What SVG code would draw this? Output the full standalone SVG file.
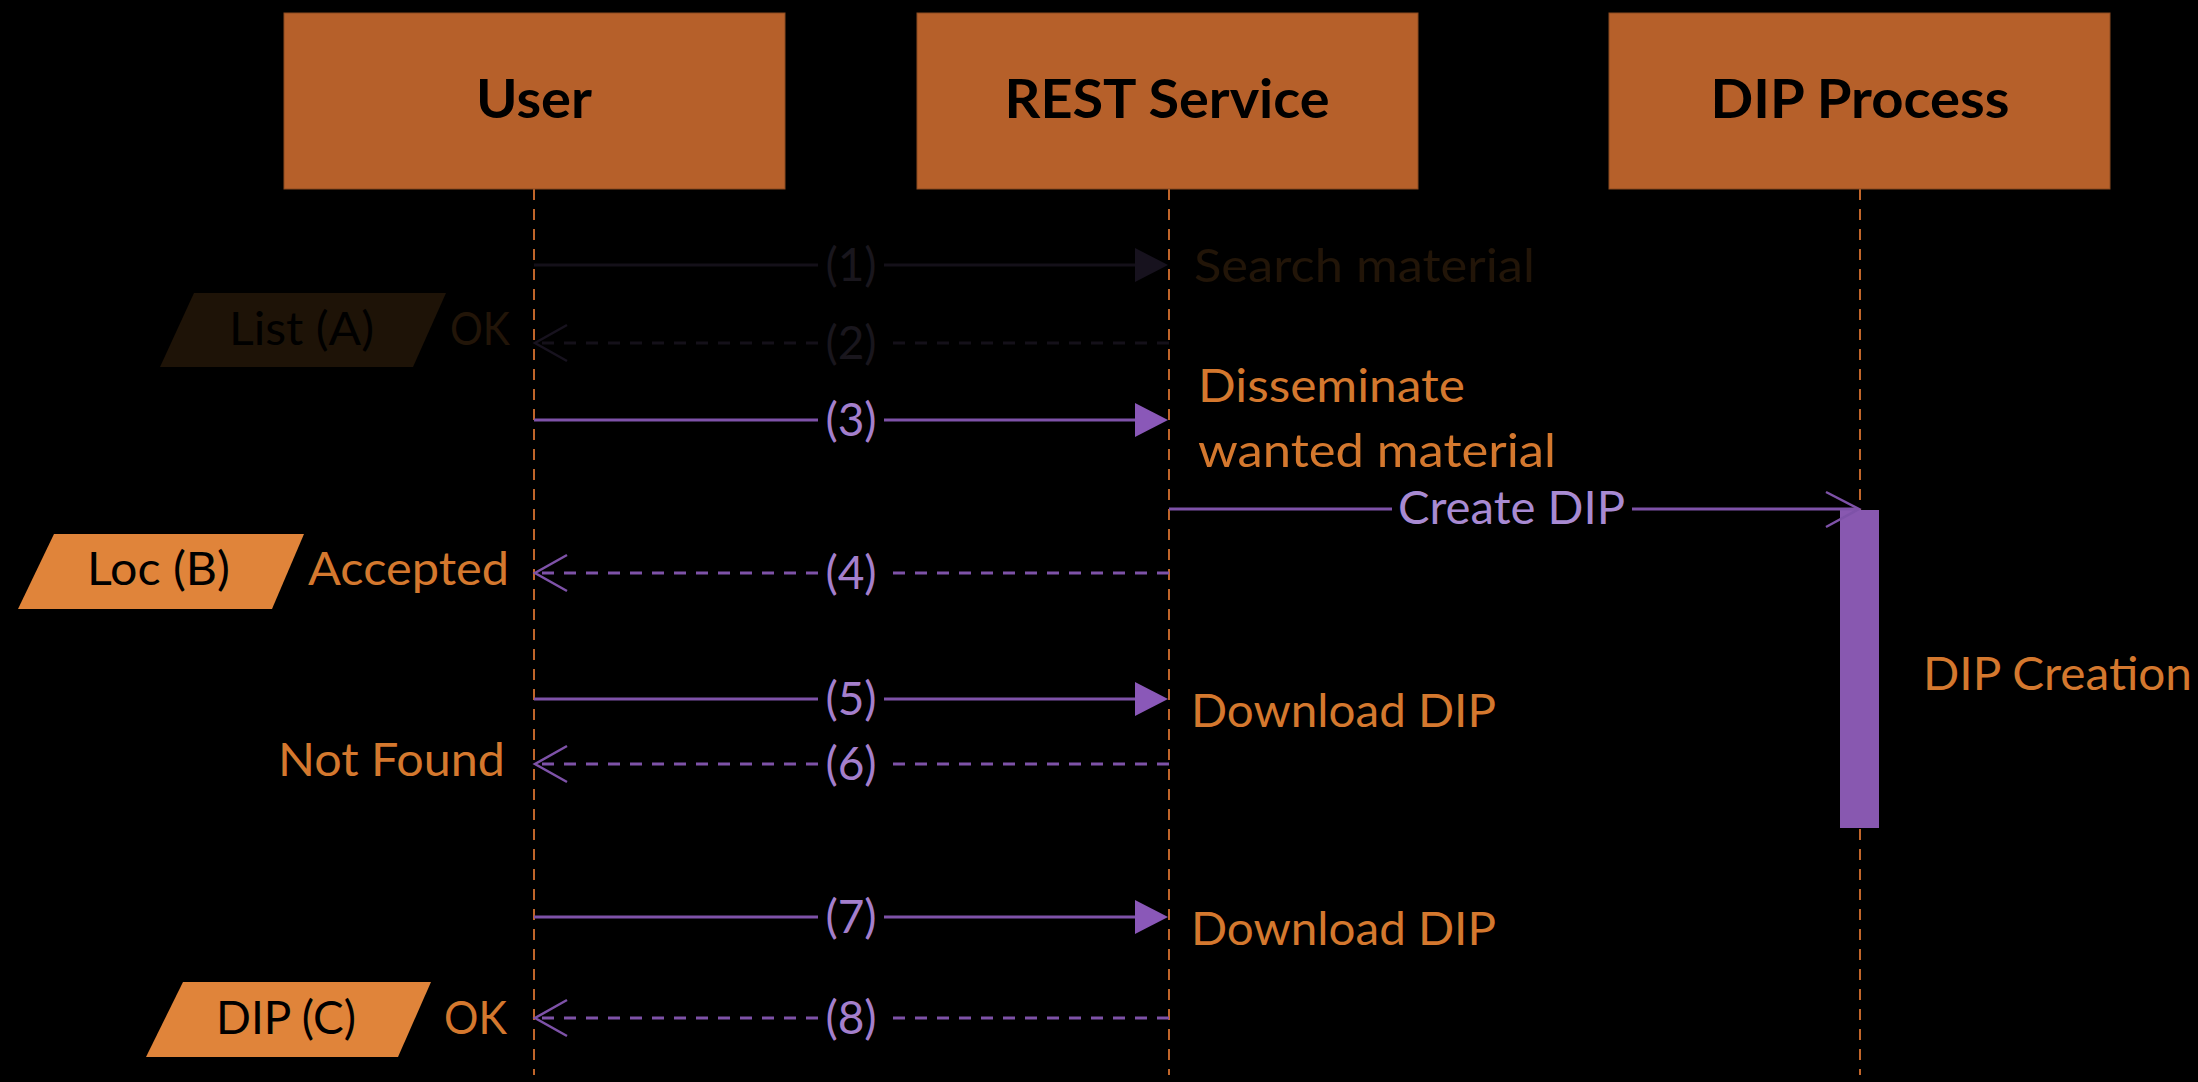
<svg xmlns="http://www.w3.org/2000/svg" width="2198" height="1082" viewBox="0 0 2198 1082">
<style>
.box{fill:#b6602a;stroke:#8a4a20;stroke-width:1}
.title{font-family:Lato,"Open Sans",sans-serif;font-weight:bold;font-size:54px;fill:#000;text-anchor:middle}
.life{stroke:#c0652a;stroke-width:2;stroke-dasharray:11 9;fill:none}
.lbl{font-family:Lato,"Open Sans",sans-serif;font-size:46px;fill:#d4782e}
.num{font-family:Lato,"Open Sans",sans-serif;font-size:46px;fill:#a47fcc;text-anchor:middle}
.msg{stroke:#7e52a8;stroke-width:3;fill:none}
.ret{stroke:#7e52a8;stroke-width:3;fill:none;stroke-dasharray:12 10}
.head{fill:#8a58b8}
.ohead{stroke:#7e52a8;stroke-width:2.5;fill:none}
.para{fill:#e0843a}
.ptxt{font-family:Lato,"Open Sans",sans-serif;font-size:46px;fill:#000}
.dimline{stroke:#141019;stroke-width:3;fill:none}
.dimret{stroke:#141019;stroke-width:3;fill:none;stroke-dasharray:12 10}
.dimhead{fill:#17121e}
.dimohead{stroke:#17121e;stroke-width:2.5;fill:none}
.dimnum{font-family:Lato,"Open Sans",sans-serif;font-size:46px;fill:#19161d;text-anchor:middle}
.dimlbl{font-family:Lato,"Open Sans",sans-serif;font-size:46px;fill:#221508}
</style>
<rect x="0" y="0" width="2198" height="1082" fill="#000"/>

<g id="lifelines">
<line class="life" x1="534" y1="189" x2="534" y2="1075"/>
<line class="life" x1="1169" y1="189" x2="1169" y2="1075"/>
<line class="life" x1="1860" y1="189" x2="1860" y2="1075"/>
</g>

<g id="node-user">
<rect class="box" x="284" y="13" width="501" height="176"/>
<text class="title" x="534" y="118" textLength="116" lengthAdjust="spacingAndGlyphs">User</text>
</g>
<g id="node-rest">
<rect class="box" x="917" y="13" width="501" height="176"/>
<text class="title" x="1167" y="118" textLength="325" lengthAdjust="spacingAndGlyphs">REST Service</text>
</g>
<g id="node-dip">
<rect class="box" x="1609" y="13" width="501" height="176"/>
<text class="title" x="1860" y="118" textLength="299" lengthAdjust="spacingAndGlyphs">DIP Process</text>
</g>

<g id="activation">
<rect x="1840" y="510" width="39" height="318" fill="#8858b0"/>
<text class="lbl" x="1923" y="690" textLength="269" lengthAdjust="spacingAndGlyphs">DIP Creation</text>
</g>

<g id="connectors">
<!-- (1) -->
<line class="dimline" x1="534" y1="265" x2="818" y2="265"/>
<line class="dimline" x1="884" y1="265" x2="1140" y2="265"/>
<polygon class="dimhead" points="1168,265 1135,248 1135,282"/>
<text class="dimnum" x="851" y="281">(1)</text>
<!-- (2) -->
<line class="dimret" x1="1169" y1="343" x2="884" y2="343"/>
<line class="dimret" x1="818" y1="343" x2="536" y2="343"/>
<polyline class="dimohead" points="567,325 535,343 567,361"/>
<text class="dimnum" x="851" y="359">(2)</text>
<!-- (3) -->
<line class="msg" x1="534" y1="420" x2="818" y2="420"/>
<line class="msg" x1="884" y1="420" x2="1140" y2="420"/>
<polygon class="head" points="1168,420 1135,403 1135,437"/>
<text class="num" x="851" y="436">(3)</text>
<!-- Create DIP -->
<line class="msg" x1="1169" y1="509" x2="1392" y2="509"/>
<line class="msg" x1="1632" y1="509" x2="1858" y2="509"/>
<polyline class="ohead" points="1826,492 1859,509 1826,527"/>
<text x="1398" y="524" font-family="Lato, 'Open Sans', sans-serif" font-size="46" fill="#a88ad2" textLength="227" lengthAdjust="spacingAndGlyphs">Create DIP</text>
<!-- (4) -->
<line class="ret" x1="1169" y1="573" x2="884" y2="573"/>
<line class="ret" x1="818" y1="573" x2="536" y2="573"/>
<polyline class="ohead" points="567,555 535,573 567,591"/>
<text class="num" x="851" y="589">(4)</text>
<!-- (5) -->
<line class="msg" x1="534" y1="699" x2="818" y2="699"/>
<line class="msg" x1="884" y1="699" x2="1140" y2="699"/>
<polygon class="head" points="1168,699 1135,682 1135,716"/>
<text class="num" x="851" y="715">(5)</text>
<!-- (6) -->
<line class="ret" x1="1169" y1="764" x2="884" y2="764"/>
<line class="ret" x1="818" y1="764" x2="536" y2="764"/>
<polyline class="ohead" points="567,746 535,764 567,782"/>
<text class="num" x="851" y="780">(6)</text>
<!-- (7) -->
<line class="msg" x1="534" y1="917" x2="818" y2="917"/>
<line class="msg" x1="884" y1="917" x2="1140" y2="917"/>
<polygon class="head" points="1168,917 1135,900 1135,934"/>
<text class="num" x="851" y="933">(7)</text>
<!-- (8) -->
<line class="ret" x1="1169" y1="1018" x2="884" y2="1018"/>
<line class="ret" x1="818" y1="1018" x2="536" y2="1018"/>
<polyline class="ohead" points="567,1000 535,1018 567,1036"/>
<text class="num" x="851" y="1034">(8)</text>
</g>

<g id="message-labels">
<text class="dimlbl" x="1194" y="282" textLength="341" lengthAdjust="spacingAndGlyphs">Search material</text>
<text class="dimlbl" x="450" y="345" textLength="60" lengthAdjust="spacingAndGlyphs">OK</text>
<text class="lbl" x="1198" y="402" textLength="267" lengthAdjust="spacingAndGlyphs">Disseminate</text>
<text class="lbl" x="1198" y="467" textLength="358" lengthAdjust="spacingAndGlyphs">wanted material</text>
<text class="lbl" x="308" y="585" textLength="201" lengthAdjust="spacingAndGlyphs">Accepted</text>
<text class="lbl" x="1191" y="727" textLength="305" lengthAdjust="spacingAndGlyphs">Download DIP</text>
<text class="lbl" x="278" y="776" textLength="227" lengthAdjust="spacingAndGlyphs">Not Found</text>
<text class="lbl" x="1191" y="945" textLength="305" lengthAdjust="spacingAndGlyphs">Download DIP</text>
<text class="lbl" x="444" y="1034" textLength="63" lengthAdjust="spacingAndGlyphs">OK</text>
</g>

<g id="node-list-a">
<polygon points="194,293 446,293 413,367 160,367" fill="#1e1307"/>
<text class="ptxt" x="229" y="345" fill="#0a0806" textLength="145" lengthAdjust="spacingAndGlyphs">List (A)</text>
</g>
<g id="node-loc-b">
<polygon class="para" points="54,534 304,534 272,609 18,609"/>
<text class="ptxt" x="87" y="585" textLength="143" lengthAdjust="spacingAndGlyphs">Loc (B)</text>
</g>
<g id="node-dip-c">
<polygon class="para" points="183,982 431,982 398,1057 146,1057"/>
<text class="ptxt" x="216" y="1034" textLength="140" lengthAdjust="spacingAndGlyphs">DIP (C)</text>
</g>
</svg>
